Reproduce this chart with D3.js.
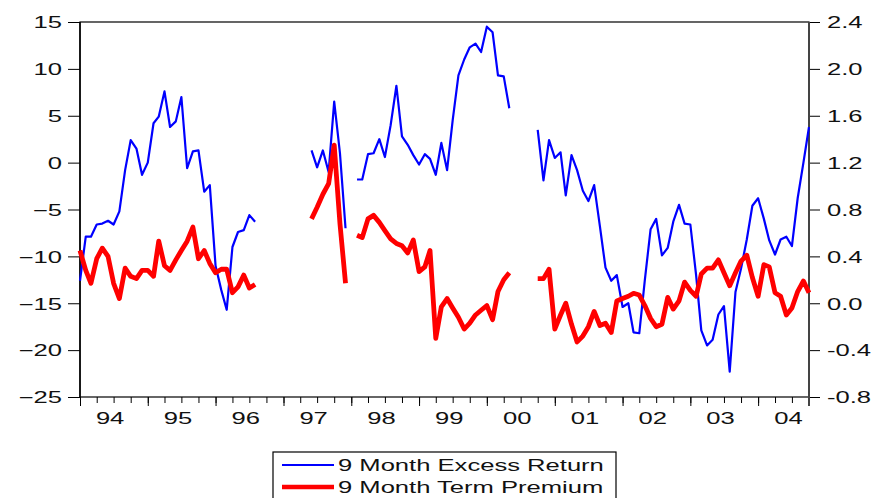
<!DOCTYPE html>
<html>
<head>
<meta charset="utf-8">
<script src="https://cdn.jsdelivr.net/npm/d3@7/dist/d3.min.js"></script>
<style>
  html, body { margin: 0; padding: 0; background: #fff; }
  svg { display: block; }
  text { font-family: "Liberation Sans", Arial, sans-serif; font-size: 16px; fill: #111; }
</style>
</head>
<body>
<svg id="chart" width="875" height="498"></svg>
<script>
// ---- data (monthly, Jan 1994 .. Oct 2004; null = no observation) ----
const startYear = 1994;
const startMonth = 0;
const excessReturn = [
  -12.6, -7.9, -7.9, -6.6, -6.5, -6.2, -6.6, -5.2, -0.8, 2.4, 1.5, -1.3,
  0.0, 4.2, 4.9, 7.6, 3.8, 4.4, 7.0, -0.6, 1.2, 1.3, -3.1, -2.4,
  -11.0, -13.6, -15.7, -9.0, -7.4, -7.2, -5.6, -6.3, null, null, null, null,
  null, null, null, null, null, 1.3, -0.5, 1.3, -1.0, 6.5, 1.0, -7.0,
  null, -1.8, -1.8, 0.9, 1.0, 2.5, 0.6, 4.0, 8.2, 2.8, 1.9, 0.8,
  -0.2, 0.9, 0.4, -1.3, 2.1, -0.8, 4.5, 9.3, 11.0, 12.3, 12.7, 11.8,
  14.5, 13.9, 9.3, 9.2, 5.8, null, null, null, null, 3.5, -1.9, 2.4,
  0.5, 1.1, -3.5, 0.8, -0.8, -3.0, -4.1, -2.4, -6.8, -11.2, -12.6, -12.0,
  -15.4, -15.0, -18.1, -18.2, -12.5, -7.1, -6.0, -9.9, -9.1, -6.3, -4.5, -6.5,
  -6.6, -12.0, -17.9, -19.5, -18.9, -16.2, -15.3, -22.3, -13.8, -11.3, -8.2, -4.6,
  -3.8, -6.0, -8.3, -9.8, -8.2, -7.9, -8.9, -3.8, 0.0, 3.8
];
const termPremium = [
  0.45, 0.28, 0.17, 0.38, 0.47, 0.40, 0.17, 0.04, 0.30, 0.23, 0.21, 0.28,
  0.28, 0.23, 0.53, 0.32, 0.28, 0.37, 0.45, 0.53, 0.65, 0.38, 0.45, 0.34,
  0.26, 0.29, 0.29, 0.09, 0.14, 0.24, 0.13, 0.16, null, null, null, null,
  null, null, null, null, null, 0.72, 0.82, 0.93, 1.02, 1.35, 0.68, 0.17,
  null, 0.58, 0.56, 0.72, 0.75, 0.69, 0.62, 0.55, 0.51, 0.49, 0.43, 0.54,
  0.27, 0.31, 0.45, -0.30, -0.03, 0.04, -0.04, -0.12, -0.22, -0.17, -0.10, -0.06,
  -0.02, -0.14, 0.10, 0.20, 0.26, null, null, null, null, 0.21, 0.21, 0.29,
  -0.22, -0.10, 0.00, -0.18, -0.33, -0.28, -0.20, -0.07, -0.19, -0.17, -0.25, 0.02,
  0.04, 0.06, 0.085, 0.07, -0.02, -0.13, -0.20, -0.18, 0.05, -0.05, 0.02, 0.18,
  0.11, 0.06, 0.25, 0.30, 0.30, 0.37, 0.26, 0.15, 0.26, 0.36, 0.41, 0.22,
  0.06, 0.33, 0.31, 0.09, 0.06, -0.10, -0.04, 0.10, 0.19, 0.09
];
const leftTicks = [15, 10, 5, 0, -5, -10, -15, -20, -25];
const rightTicks = [2.4, 2.0, 1.6, 1.2, 0.8, 0.4, 0.0, -0.4, -0.8];
const yearLabels = ["94", "95", "96", "97", "98", "99", "00", "01", "02", "03", "04"];
const seriesNames = ["9 Month Excess Return", "9 Month Term Premium"];

// ---- layout ----
const M = { left: 80, right: 809, top: 22, bottom: 397 };
const SX = 1.6; // horizontal stretch of the original text rendering

const svg = d3.select("#chart");
const dates = excessReturn.map((_, i) => new Date(startYear, startMonth + i, 1));

const x = d3.scaleTime().domain([dates[0], dates[dates.length - 1]]).range([M.left, M.right]);
const yL = d3.scaleLinear().domain([-25, 15]).range([M.bottom, M.top]);
const yR = d3.scaleLinear().domain([-0.8, 2.4]).range([M.bottom, M.top]);

function stretchText(sel, dx, dyPx) {
  sel.each(function () {
    const t = d3.select(this);
    t.attr("x", null).attr("dy", null).attr("y", null)
     .attr("transform", `translate(${dx},${dyPx}) scale(${SX},1)`);
  });
}

// left axis
const gL = svg.append("g").attr("transform", `translate(${M.left},0)`)
  .call(d3.axisLeft(yL).tickValues(leftTicks).tickSize(12).tickFormat(d3.format("d")));
gL.select(".domain").remove();
gL.selectAll(".tick line").attr("stroke", "#000");
gL.selectAll(".tick text").attr("fill", "#111").style("font-size", "16px")
  .style("font-family", '"Liberation Sans", Arial, sans-serif')
  .call(stretchText, -18, 5.8);

// right axis
const gR = svg.append("g").attr("transform", `translate(${M.right},0)`)
  .call(d3.axisRight(yR).tickValues(rightTicks).tickSize(11).tickFormat(d3.format(".1f")));
gR.select(".domain").remove();
gR.selectAll(".tick line").attr("stroke", "#000");
gR.selectAll(".tick text").attr("fill", "#111").style("font-size", "16px")
  .style("font-family", '"Liberation Sans", Arial, sans-serif')
  .text(d => d3.format(".1f")(d).replace("−", "-"))
  .call(stretchText, 18, 5.8);

// bottom axis: quarterly ticks, longer ticks at year starts
const quarterTicks = dates.filter((d, i) => i % 3 === 0);
const yearTicks = dates.filter(d => d.getMonth() === 0);
const gB = svg.append("g").attr("transform", `translate(0,${M.bottom})`)
  .call(d3.axisBottom(x).tickValues(quarterTicks).tickSize(6).tickFormat(""));
gB.select(".domain").remove();
gB.selectAll(".tick line").attr("stroke", "#000");
const gB2 = svg.append("g").attr("transform", `translate(0,${M.bottom})`)
  .call(d3.axisBottom(x).tickValues(yearTicks).tickSize(9).tickFormat(""));
gB2.select(".domain").remove();
gB2.selectAll(".tick line").attr("stroke", "#000");

// year labels, centred in each year
svg.append("g").selectAll("text").data(yearLabels).join("text")
  .attr("text-anchor", "middle")
  .attr("transform", (d, i) => `translate(${x(new Date(startYear + i, 6, 1)) - 3.5},424) scale(${SX},1)`)
  .text(d => d);

// frame
svg.append("rect").attr("x", M.left).attr("y", M.top)
  .attr("width", M.right - M.left).attr("height", M.bottom - M.top)
  .attr("fill", "none").attr("stroke", "#000").attr("stroke-width", 1.2);
svg.append("line").attr("x1", M.right).attr("x2", M.right)
  .attr("y1", M.top).attr("y2", M.bottom + 9)
  .attr("stroke", "#444").attr("stroke-width", 2);
svg.append("line").attr("x1", M.left).attr("x2", M.left)
  .attr("y1", M.top).attr("y2", M.bottom)
  .attr("stroke", "#000").attr("stroke-width", 1.5);

// lines
const lineL = d3.line().defined(d => d.v !== null).x(d => x(d.date)).y(d => yL(d.v));
const lineR = d3.line().defined(d => d.v !== null).x(d => x(d.date)).y(d => yR(d.v));

const plot = svg.append("g");
plot.append("path")
  .datum(excessReturn.map((v, i) => ({ date: dates[i], v })))
  .attr("fill", "none").attr("stroke", "#0000ff").attr("stroke-width", 2.2)
  .attr("stroke-linejoin", "round")
  .attr("d", lineL);
plot.append("path")
  .datum(termPremium.map((v, i) => ({ date: dates[i], v })))
  .attr("fill", "none").attr("stroke", "#ff0000").attr("stroke-width", 4.8)
  .attr("stroke-linejoin", "round")
  .attr("d", lineR);

// legend
const lg = svg.append("g");
lg.append("rect").attr("x", 273).attr("y", 452).attr("width", 343).attr("height", 60)
  .attr("fill", "#fff").attr("stroke", "#000").attr("stroke-width", 1.2);
const legendItems = [
  { name: seriesNames[0], color: "#0000ff", w: 2, y: 465 },
  { name: seriesNames[1], color: "#ff0000", w: 4.5, y: 487 }
];
legendItems.forEach(it => {
  lg.append("line").attr("x1", 282).attr("x2", 334).attr("y1", it.y).attr("y2", it.y)
    .attr("stroke", it.color).attr("stroke-width", it.w);
  lg.append("text").attr("transform", `translate(338,${it.y + 6}) scale(${SX},1)`)
    .text(it.name);
});
</script>
</body>
</html>
